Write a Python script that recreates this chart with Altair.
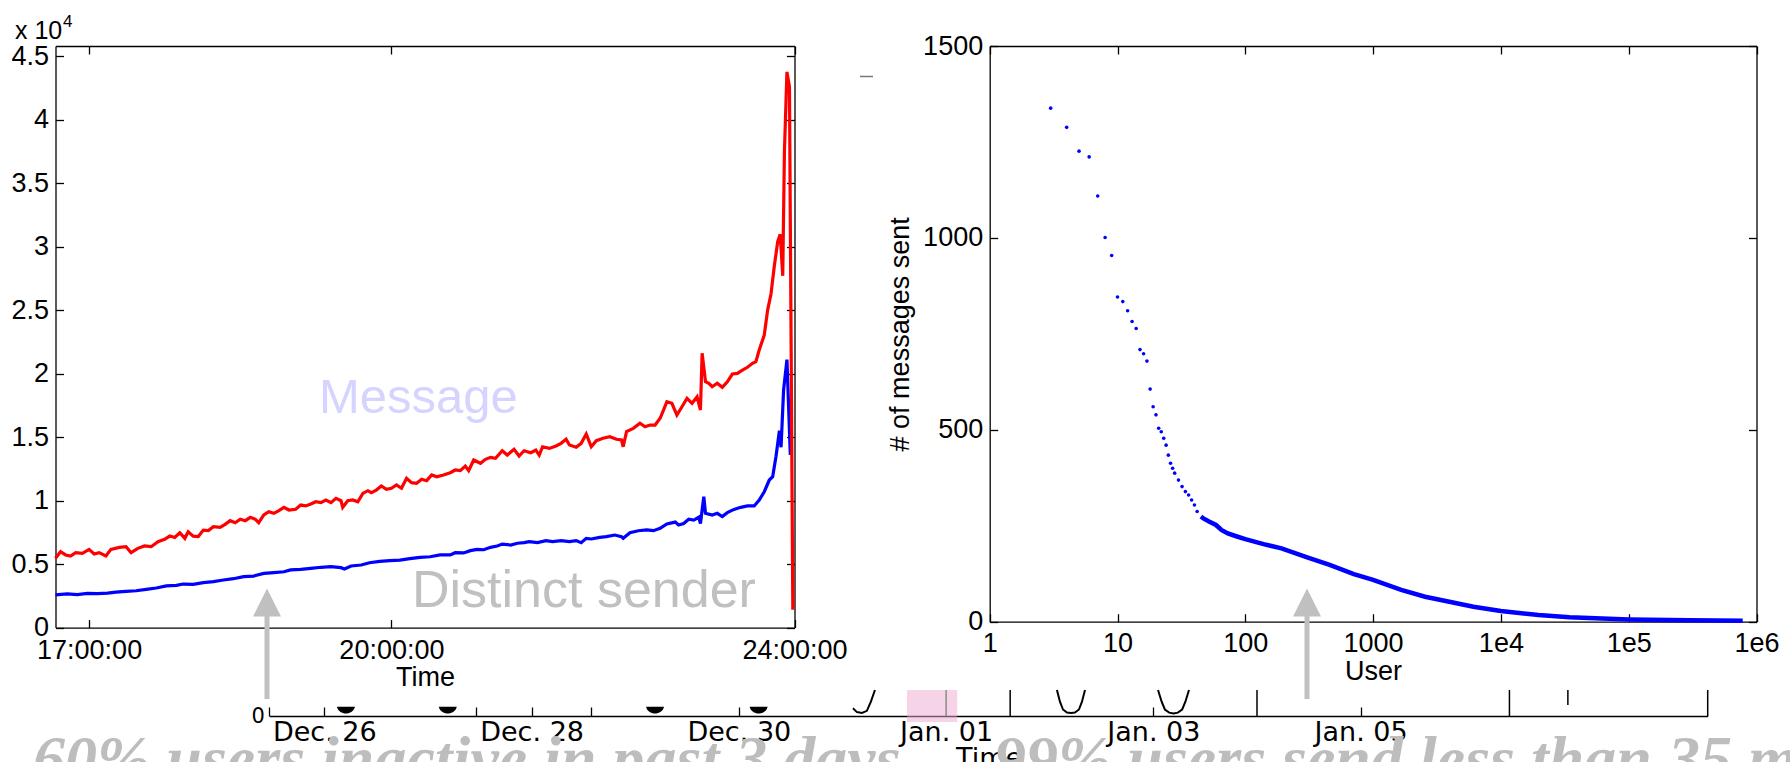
import altair as alt
import pandas as pd

W, H = 1790, 762

# ---------------------------------------------------------------------------
# New Year's Eve traffic per minute (minute of day, 1020 = 17:00, 1440 = 24:00)
# ---------------------------------------------------------------------------
msg_minute = [1000, 1003, 1006, 1009, 1012, 1016, 1020, 1023, 1026, 1030, 1033, 1038,
              1042, 1045, 1049, 1053, 1057, 1061, 1065, 1068, 1071, 1074, 1077, 1079,
              1082, 1085, 1088, 1091, 1094, 1098, 1101, 1104, 1107, 1110, 1113, 1116,
              1119, 1121, 1124, 1127, 1130, 1133, 1136, 1139, 1143, 1146, 1149, 1152,
              1155, 1158, 1161, 1164, 1167, 1170, 1171, 1174, 1177, 1180, 1183, 1186,
              1188, 1191, 1194, 1197, 1200, 1203, 1206, 1209, 1212, 1215, 1218, 1221,
              1224, 1227, 1231, 1235, 1238, 1241, 1244, 1246, 1249, 1253, 1256, 1259,
              1262, 1266, 1269, 1273, 1276, 1279, 1283, 1286, 1288, 1290, 1294, 1298,
              1301, 1304, 1306, 1310, 1313, 1316, 1319, 1322, 1326, 1330, 1334, 1337,
              1338, 1340, 1344, 1348, 1351, 1354, 1357, 1360, 1362, 1364, 1367, 1370,
              1373, 1376, 1379, 1382, 1384, 1385, 1387, 1389, 1391, 1394, 1397, 1400,
              1403, 1406, 1409, 1412, 1415, 1417, 1419, 1422, 1424, 1426, 1428, 1430,
              1431.5, 1433, 1434, 1435.5, 1437, 1439]
msg_count = [5460, 5980, 5720, 5640, 5900, 5850, 6160, 5800, 5900, 5640, 6160, 6320,
             6370, 5900, 6240, 6430, 6370, 6760, 6950, 7210, 7100, 7470, 7030, 7550,
             7200, 7170, 7680, 7640, 7950, 7900, 8130, 8420, 8260, 8530, 8420, 8680,
             8530, 8260, 8870, 9130, 9000, 9210, 9470, 9260, 9320, 9650, 9580, 9730,
             9910, 9840, 10050, 9840, 10180, 9990, 9470, 9990, 10050, 9910, 10570, 10780,
             10630, 10830, 11150, 10890, 10970, 11230, 10970, 11760, 11410, 11360, 11680, 11570,
             12020, 11880, 12020, 12200, 12410, 12360, 12720, 12360, 13200, 12940, 13250, 13410,
             13330, 13930, 13590, 14040, 13510, 13930, 13770, 13980, 13590, 14240, 14110, 14300,
             14510, 14830, 14380, 14200, 14510, 15240, 14240, 14720, 14910, 15030, 14830, 14770,
             14240, 15430, 15690, 16090, 15820, 15950, 15950, 16480, 17130, 17790, 17660, 16740,
             17390, 18060, 17660, 18180, 17130, 21600, 19360, 19240, 18970, 19240, 18920, 19360,
             19970, 20020, 20280, 20500, 20810, 20940, 21860, 23040, 25000, 26270, 28500, 30390,
             30970, 27700, 37450, 43760, 42600, 1400]

sender_minute = [1000, 1007, 1013, 1019, 1025, 1031, 1036, 1042, 1048, 1054, 1060, 1066,
                 1072, 1076, 1082, 1088, 1094, 1100, 1106, 1112, 1118, 1124, 1130, 1136,
                 1140, 1146, 1152, 1158, 1164, 1170, 1172, 1176, 1182, 1187, 1193, 1199,
                 1205, 1211, 1217, 1223, 1229, 1235, 1238, 1243, 1247, 1251, 1255, 1259,
                 1263, 1266, 1271, 1275, 1279, 1282, 1287, 1292, 1296, 1301, 1306, 1310,
                 1313, 1316, 1319, 1324, 1328, 1333, 1337, 1338, 1342, 1347, 1352, 1356,
                 1360, 1364, 1369, 1371, 1374, 1377, 1380, 1383, 1384, 1386, 1387, 1391,
                 1394, 1397, 1400, 1404, 1408, 1412, 1416, 1419, 1422, 1425, 1427, 1429,
                 1431, 1432, 1433.5, 1435.5, 1437.5]
sender_count = [2570, 2650, 2600, 2700, 2680, 2720, 2800, 2860, 2900, 3010, 3120, 3280,
                3330, 3430, 3410, 3540, 3620, 3750, 3850, 4010, 4060, 4270, 4330, 4400,
                4540, 4590, 4670, 4750, 4800, 4720, 4620, 4850, 4930, 5110, 5220, 5270,
                5320, 5430, 5530, 5580, 5720, 5720, 5900, 5880, 6060, 6160, 6130, 6320,
                6430, 6580, 6500, 6640, 6690, 6770, 6690, 6850, 6770, 6850, 6770, 6850,
                6690, 7030, 6980, 7110, 7160, 7290, 7160, 7030, 7470, 7630, 7690, 7630,
                7820, 8160, 8310, 8080, 8200, 8530, 8470, 8690, 8200, 10310, 9000, 8870,
                9000, 8740, 9050, 9310, 9470, 9580, 9580, 10050, 10700, 11620, 11880, 13500,
                15500, 14200, 18700, 21100, 13600]

time_ticks = [1020, 1200, 1440]
count_ticks = [0, 5000, 10000, 15000, 20000, 25000, 30000, 35000, 40000, 45000]

# ---------------------------------------------------------------------------
# Messages sent per user, users ranked by activity
# ---------------------------------------------------------------------------
top_rank = [3, 4, 5, 6, 7, 8, 9, 10, 11, 12, 13, 14, 15, 16, 17, 18, 19, 20, 21, 22,
            23, 24, 25, 26, 27, 28, 30, 32, 34, 36, 38, 40, 42]
top_msgs = [1338, 1288, 1226, 1211, 1109, 1001, 954, 846, 834, 810, 782, 764, 709, 698,
            679, 606, 560, 539, 504, 495, 478, 460, 434, 413, 400, 387, 369, 352, 339,
            330, 317, 304, 287]
tail_rank = [45, 47, 52, 59, 65, 73, 86, 100, 139, 192, 297, 457, 707, 1000, 1660, 2550,
             3950, 6100, 10000, 19700, 34400, 100000, 297000, 780000]
tail_msgs = [274, 269, 261, 252, 239, 230, 222, 215, 202, 191, 169, 148, 124, 109, 83, 65,
             52, 39, 28, 17.5, 11.4, 6, 3.5, 2.6]
user_ticks = [1, 10, 100, 1000, 10000, 100000, 1000000]
msgs_ticks = [0, 500, 1000, 1500]

# ---------------------------------------------------------------------------
# Daily activity strip, Dec 25 - Jan 08
# ---------------------------------------------------------------------------
strip_start, strip_end = "2011-12-25T11:15", "2012-01-08T08:23"
day_ticks = ["2011-12-26T00:00", "2011-12-28T00:00", "2011-12-30T00:00",
             "2012-01-01T00:00", "2012-01-03T00:00", "2012-01-05T00:00"]
minor_ticks = ["2011-12-25T11:15", "2011-12-26T00:00", "2011-12-27T11:04",
               "2011-12-28T00:00", "2011-12-28T13:42", "2011-12-30T00:00",
               "2012-01-03T00:00", "2012-01-05T00:00"]
trough_day = ["Dec 31"] * 6 + ["Jan 02"] * 9 + ["Jan 03"] * 9
trough_time = ["2011-12-31T02:25", "2011-12-31T03:21", "2011-12-31T04:30",
               "2011-12-31T05:39", "2011-12-31T06:35", "2011-12-31T07:31",
               "2012-01-02T01:40", "2012-01-02T02:22", "2012-01-02T03:04",
               "2012-01-02T03:59", "2012-01-02T04:55", "2012-01-02T05:51",
               "2012-01-02T06:46", "2012-01-02T07:28", "2012-01-02T08:10",
               "2012-01-03T01:05", "2012-01-03T01:55", "2012-01-03T02:40",
               "2012-01-03T03:40", "2012-01-03T04:40", "2012-01-03T05:40",
               "2012-01-03T06:40", "2012-01-03T07:25", "2012-01-03T08:15"]
trough_level = [0.30, 0.15, 0.12, 0.20, 0.55, 1.0,
                1.0, 0.55, 0.25, 0.13, 0.12, 0.13, 0.25, 0.55, 1.0,
                1.0, 0.55, 0.25, 0.13, 0.10, 0.13, 0.25, 0.55, 1.0]
blob_time = ["2011-12-26T05:00", "2011-12-27T04:35", "2011-12-29T04:35", "2011-12-30T04:35"]
blob_level = [0.215, 0.215, 0.215, 0.215]
mark_time = ["2012-01-01T14:50", "2012-01-04T00:00", "2012-01-06T10:28",
             "2012-01-07T00:00", "2012-01-08T08:23"]
mark_lo = [0, 0, 0, 0.42, 0]
mark_hi = [1, 1, 1, 1, 1]
midnight_time = ["2012-01-01T00:00"]
window_start, window_end = ["2011-12-31T14:57"], ["2012-01-01T02:34"]

caption_left = "60% users inactive in past 3 days"
caption_right = "99% users send less than 35 messages"

# ---------------------------------------------------------------------------
# helpers
# ---------------------------------------------------------------------------
def iso(s):
    return s + ":00Z"


def dt(s):
    d, t = s.split("T")
    y, m, dd = (int(v) for v in d.split("-"))
    hh, mm = (int(v) for v in t.split(":"))
    return alt.DateTime(year=y, month=m, date=dd, hours=hh, minutes=mm, utc=True)


def offset_for(orient, pos):
    return {"bottom": pos - H, "top": -pos, "left": -pos, "right": pos - W}[orient]


COMMON = dict(grid=False, labelFlush=False, labelOverlap=False,
              domainColor="black", tickColor="black", domainWidth=1.3, tickWidth=1.3)


def label_axis(orient, pos, values, expr, pad, font="Liberation Sans", size=27, **extra):
    return alt.Axis(orient=orient, offset=offset_for(orient, pos), values=values,
                    labelExpr=expr, ticks=False, tickSize=0, domain=False,
                    labelFont=font, labelFontSize=size, labelPadding=pad,
                    labelColor="black", titleFont=font, titleFontSize=size,
                    titleFontWeight="normal", titleColor="black", **COMMON, **extra)


def tick_axis(orient, pos, values, size=8):
    return alt.Axis(orient=orient, offset=offset_for(orient, pos), values=values,
                    labels=False, ticks=True, tickSize=size, domain=True, **COMMON)


# panel pixel boxes
LEFT_X, LEFT_Y = [55.5, 794.5], [627.6, 46]
RIGHT_X, RIGHT_Y = [989.7, 1756.5], [621.7, 46]
STRIP_X, STRIP_Y = [269.3, 1707.7], [716, 690]

left_xs = alt.Scale(domain=[1000, 1440], range=LEFT_X, zero=False, nice=False)
left_ys = alt.Scale(domain=[0, 45800], range=LEFT_Y, nice=False)
right_xs = alt.Scale(type="log", domain=[1, 1000000], range=RIGHT_X, nice=False)
right_ys = alt.Scale(domain=[0, 1500], range=RIGHT_Y, nice=False)
strip_xs = alt.Scale(type="utc", domain=[dt(strip_start), dt(strip_end)], range=STRIP_X, nice=False)
strip_ys = alt.Scale(domain=[0, 1], range=STRIP_Y, nice=False)

msg_df = pd.DataFrame({"minute": msg_minute, "count": msg_count})
sender_df = pd.DataFrame({"minute": sender_minute, "count": sender_count})
top_df = pd.DataFrame({"rank": top_rank, "msgs": top_msgs})
tail_df = pd.DataFrame({"rank": tail_rank, "msgs": tail_msgs})
trough_df = pd.DataFrame({"day": trough_day, "t": [iso(s) for s in trough_time], "v": trough_level})
blob_df = pd.DataFrame({"t": [iso(s) for s in blob_time], "v": blob_level})
mark_df = pd.DataFrame({"t": [iso(s) for s in mark_time], "lo": mark_lo, "hi": mark_hi})
midnight_df = pd.DataFrame({"t": [iso(s) for s in midnight_time], "lo": [0], "hi": [1]})
window_df = pd.DataFrame({"t": [iso(s) for s in window_start], "t2": [iso(s) for s in window_end],
                          "lo": [-0.23], "hi": [1.0]})

time_expr = "format(floor(datum.value / 60), '02d') + ':00:00'"
count_expr = "'' + (datum.value / 10000)"
plain_expr = "format(datum.value, 'd')"
user_expr = "datum.value < 10000 ? format(datum.value, 'd') : '1e' + format(log(datum.value) / LN10, '.0f')"

# ---------------------------------------------------------------------------
# left panel: messages and distinct senders per minute
# ---------------------------------------------------------------------------
sender_line = alt.Chart(sender_df).mark_line(color="#0000ff", strokeWidth=3.2).encode(
    x=alt.X("minute:Q", scale=left_xs, title="Time",
            axis=label_axis("bottom", LEFT_Y[0], time_ticks, time_expr, 10, titlePadding=1)),
    y=alt.Y("count:Q", scale=left_ys, title=None,
            axis=label_axis("left", LEFT_X[0], count_ticks, count_expr, 7)),
)
msg_line = alt.Chart(msg_df).mark_line(color="#ff0000", strokeWidth=3.2).encode(
    x=alt.X("minute:Q", scale=left_xs, title=None, axis=tick_axis("top", LEFT_Y[0], time_ticks)),
    y=alt.Y("count:Q", scale=left_ys, title=None, axis=tick_axis("right", LEFT_X[0], count_ticks)),
)
left_box = alt.Chart(msg_df.head(1)).mark_point(opacity=0).encode(
    x=alt.X("minute:Q", scale=left_xs, title=None, axis=tick_axis("bottom", LEFT_Y[1], time_ticks)),
    y=alt.Y("count:Q", scale=left_ys, title=None, axis=tick_axis("left", LEFT_X[1], count_ticks)),
)

# ---------------------------------------------------------------------------
# right panel: messages per user by rank
# ---------------------------------------------------------------------------
top_dots = alt.Chart(top_df).mark_circle(size=13, color="#0000ff", opacity=1).encode(
    x=alt.X("rank:Q", scale=right_xs, title="User",
            axis=label_axis("bottom", RIGHT_Y[0], user_ticks, user_expr, 9, titlePadding=2)),
    y=alt.Y("msgs:Q", scale=right_ys, title="# of messages sent",
            axis=label_axis("left", RIGHT_X[0], msgs_ticks, plain_expr, 7, titlePadding=8)),
)
tail_line = alt.Chart(tail_df).mark_line(color="#0000ff", strokeWidth=4.5).encode(
    x=alt.X("rank:Q", scale=right_xs, title=None, axis=tick_axis("top", RIGHT_Y[0], user_ticks)),
    y=alt.Y("msgs:Q", scale=right_ys, title=None, axis=tick_axis("right", RIGHT_X[0], msgs_ticks)),
)
right_box = alt.Chart(tail_df.head(1)).mark_point(opacity=0).encode(
    x=alt.X("rank:Q", scale=right_xs, title=None, axis=tick_axis("bottom", RIGHT_Y[1], user_ticks)),
    y=alt.Y("msgs:Q", scale=right_ys, title=None, axis=tick_axis("left", RIGHT_X[1], msgs_ticks)),
)

# ---------------------------------------------------------------------------
# bottom strip: daily activity timeline
# ---------------------------------------------------------------------------
strip_font = "DejaVu Sans"
troughs = alt.Chart(trough_df).mark_line(color="black", strokeWidth=2).encode(
    x=alt.X("t:T", scale=strip_xs, title="Time",
            axis=label_axis("bottom", STRIP_Y[0], [dt(s) for s in day_ticks],
                            "utcFormat(datum.value, '%b. %d')", 3, font=strip_font, size=27,
                            titlePadding=0)),
    y=alt.Y("v:Q", scale=strip_ys, title=None,
            axis=label_axis("left", STRIP_X[0], [0], "datum.label", 5, font=strip_font, size=21)),
    detail="day:N",
)
strip_axis = alt.Chart(blob_df.head(1)).mark_point(opacity=0).encode(
    x=alt.X("t:T", scale=strip_xs, title=None,
            axis=tick_axis("top", STRIP_Y[0], [dt(s) for s in minor_ticks], size=9)),
    y=alt.Y("v:Q", scale=strip_ys, axis=None),
)
bowl = "M-1,-0.4 L1,-0.4 C0.8,0.6 -0.8,0.6 -1,-0.4 Z"
blobs = alt.Chart(blob_df).mark_point(shape=bowl, filled=True, size=324, color="black", opacity=1).encode(
    x=alt.X("t:T", scale=strip_xs, axis=None),
    y=alt.Y("v:Q", scale=strip_ys, axis=None),
)
window = alt.Chart(window_df).mark_rect(color="#f0a8cf", opacity=0.5).encode(
    x=alt.X("t:T", scale=strip_xs, axis=None), x2="t2:T",
    y=alt.Y("lo:Q", scale=strip_ys, axis=None), y2="hi:Q",
)
midnight = alt.Chart(midnight_df).mark_rule(color="#8a8a8a", strokeWidth=1.5).encode(
    x=alt.X("t:T", scale=strip_xs, axis=None),
    y=alt.Y("lo:Q", scale=strip_ys, axis=None), y2="hi:Q",
)
day_marks = alt.Chart(mark_df).mark_rule(color="black", strokeWidth=1.5).encode(
    x=alt.X("t:T", scale=strip_xs, axis=None),
    y=alt.Y("lo:Q", scale=strip_ys, axis=None), y2="hi:Q",
)

# ---------------------------------------------------------------------------
# annotations
# ---------------------------------------------------------------------------
def text_layer(label, x, y, size, color, font="Liberation Sans", **style):
    return alt.Chart(pd.DataFrame({"label": [label]})).mark_text(
        align="left", baseline="alphabetic", font=font, fontSize=size, color=color, **style
    ).encode(x=alt.value(x), y=alt.value(y), text="label:N")


def arrow(x):
    shaft = alt.Chart(pd.DataFrame({"a": [0]})).mark_rule(color="#c0c0c0", strokeWidth=5).encode(
        x=alt.value(x), y=alt.value(612), y2=alt.value(699))
    head = alt.Chart(pd.DataFrame({"a": [0]})).mark_point(
        shape="M0,-1 L1,1 L-1,1 Z", filled=True, size=784, color="#c0c0c0", opacity=1
    ).encode(x=alt.value(x), y=alt.value(602.5))
    return [shaft, head]


dash = alt.Chart(pd.DataFrame({"a": [0]})).mark_rule(color="#777777", strokeWidth=1.5).encode(
    x=alt.value(860), x2=alt.value(873), y=alt.value(76.5))

annotations = [
    text_layer("x 10", 15, 39, 25, "black"),
    text_layer("4", 63, 27, 17, "black"),
    text_layer("Message", 319, 413, 49, "#d4d4ff"),
    text_layer("Distinct sender", 412, 607, 52, "#c0c0c0"),
    dash,
    *arrow(267),
    *arrow(1307),
    text_layer(caption_left, 33, 780, 64, "#bdbdbd", font="Liberation Serif",
               fontStyle="italic", fontWeight="bold"),
    text_layer(caption_right, 994, 780, 64, "#bdbdbd", font="Liberation Serif",
               fontStyle="italic", fontWeight="bold"),
]

chart = alt.layer(
    sender_line, msg_line, left_box,
    top_dots, tail_line, right_box,
    window, troughs, strip_axis, blobs, midnight, day_marks,
    *annotations,
).resolve_scale(
    x="independent", y="independent"
).properties(
    width=W, height=H, padding=0, background="white",
    autosize=alt.AutoSizeParams(type="none"),
).configure_view(strokeWidth=0)

chart.save("out.html", embed_options={"renderer": "svg", "actions": False})
